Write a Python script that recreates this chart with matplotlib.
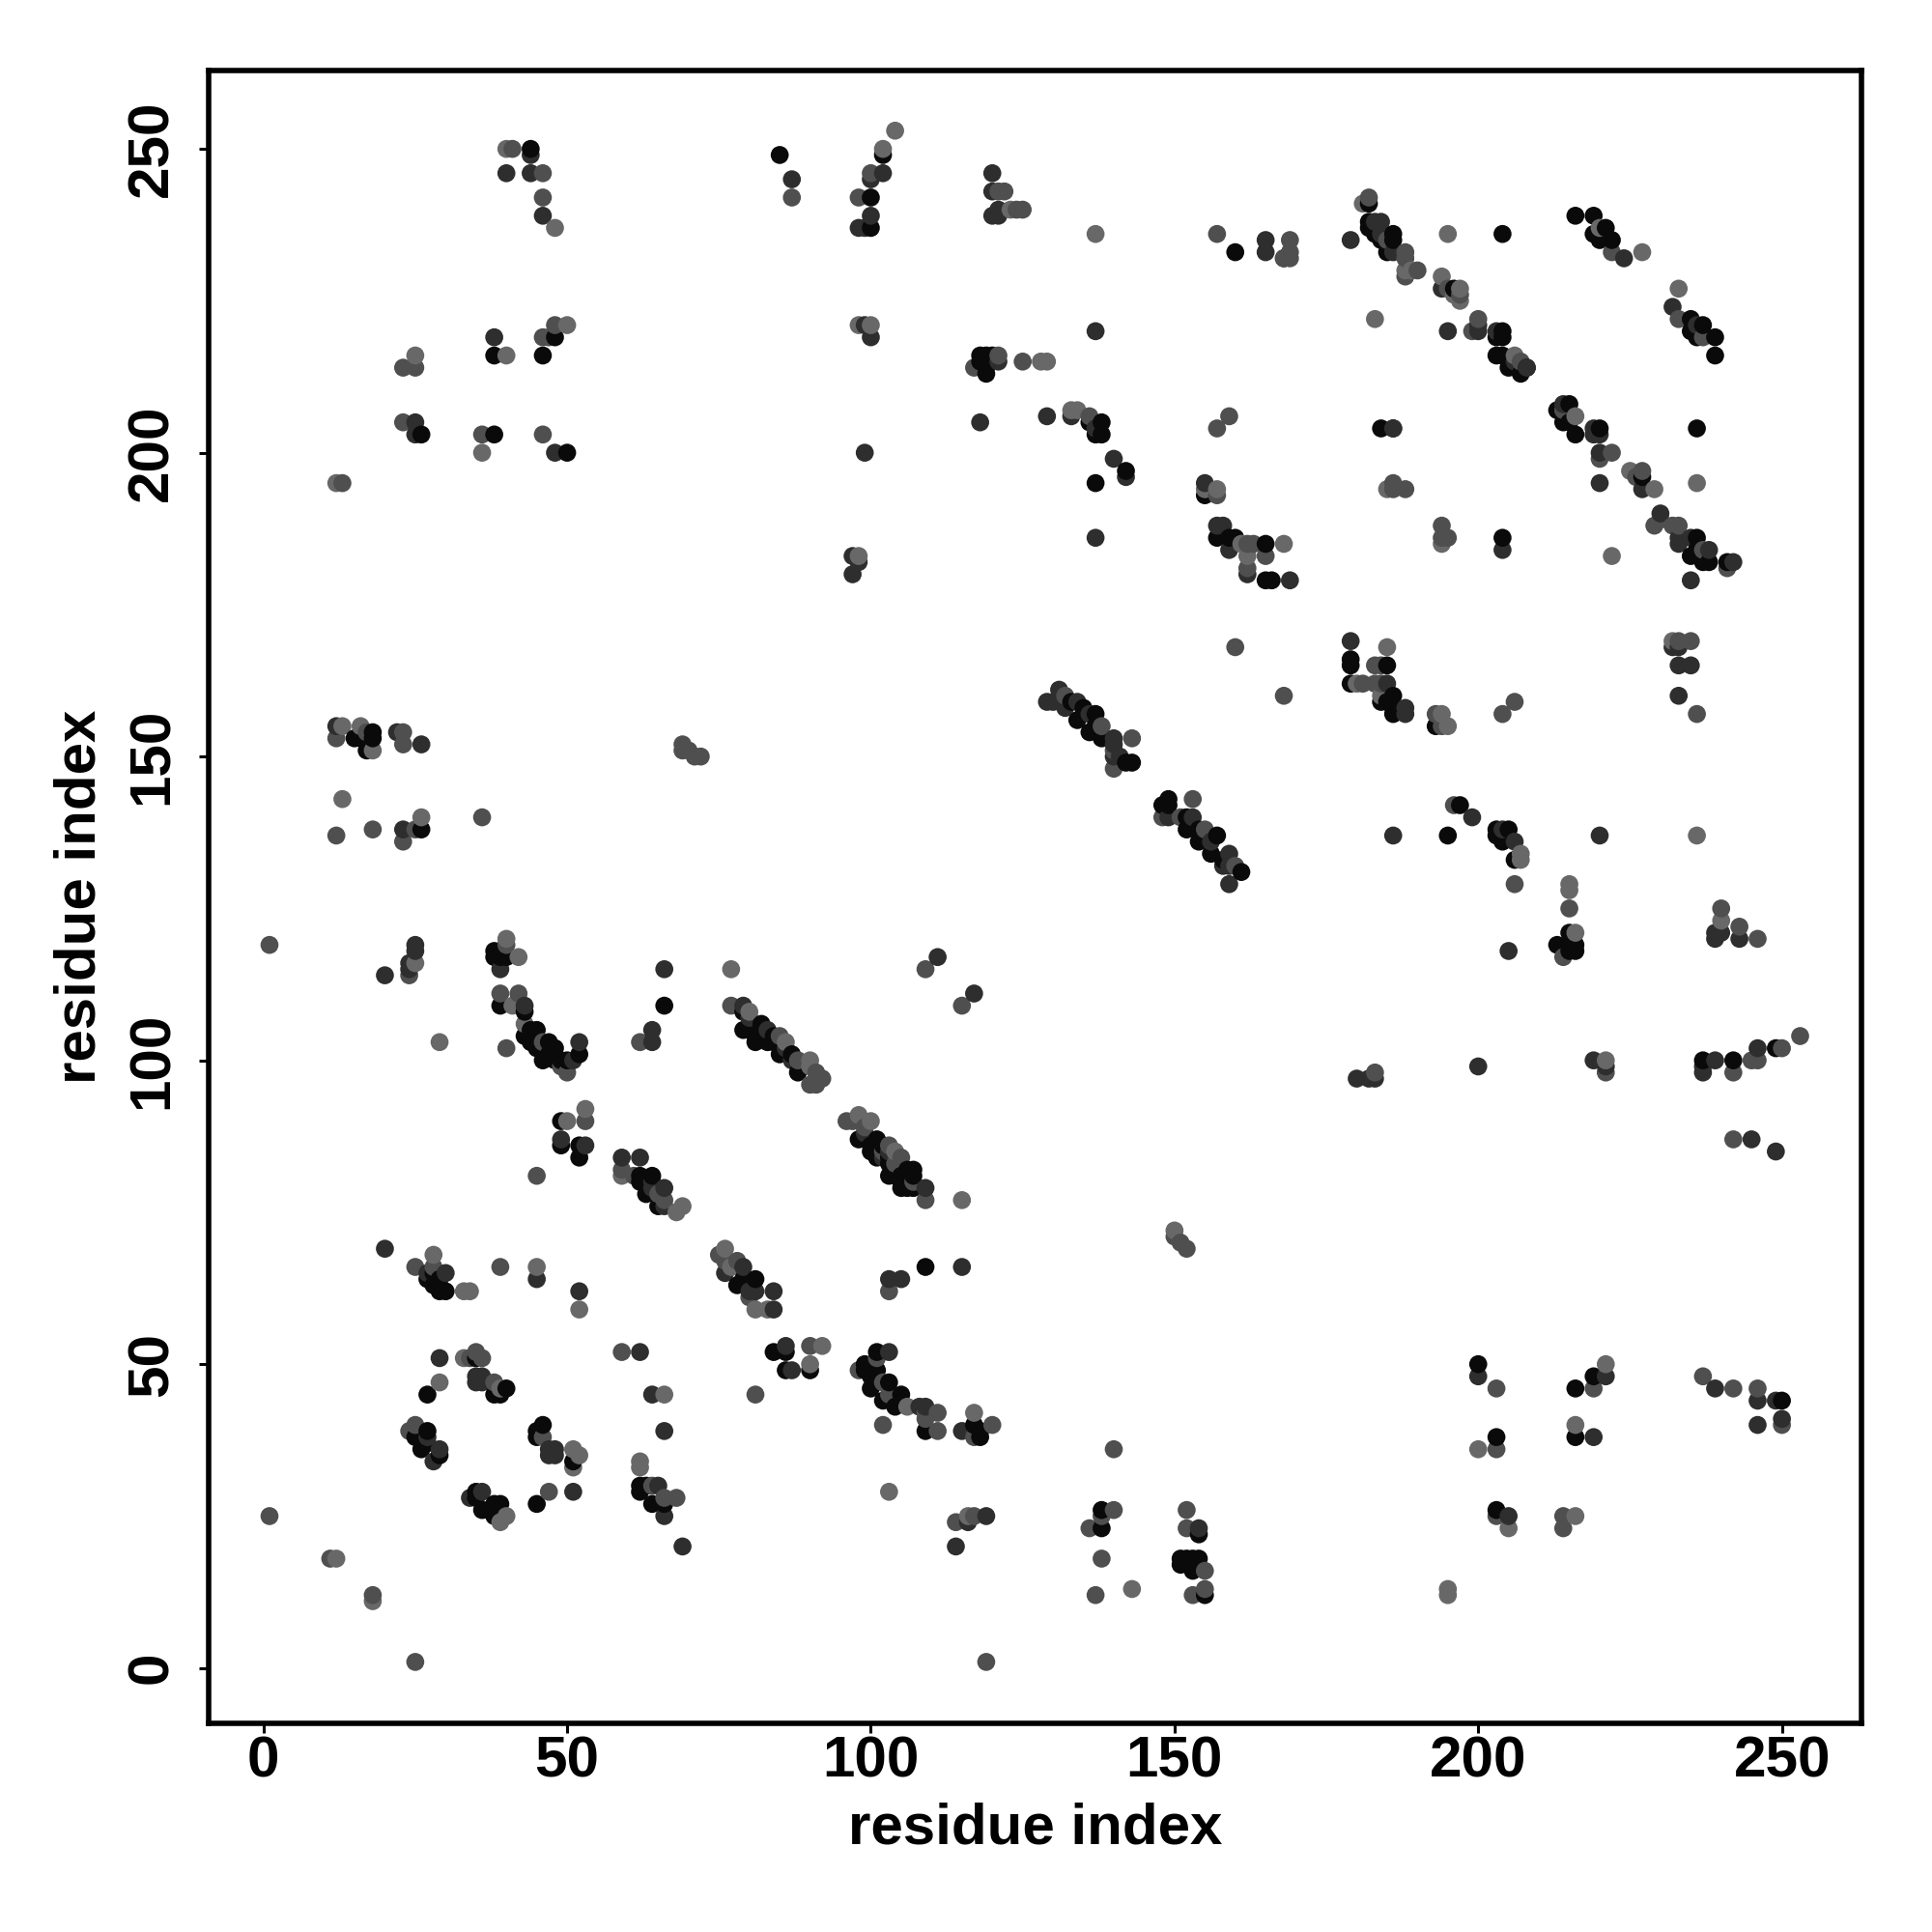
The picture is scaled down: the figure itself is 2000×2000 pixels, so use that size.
import numpy as np
import matplotlib
matplotlib.use("Agg")
import matplotlib.pyplot as plt

# contact points, grouped by grey level
black = [
    (27,64),(29,64),(29,62),(30,62),(27,45),(40,46),(38,45),(39,45),(35,51),(27,39),(25,38),(27,37),(26,36),(29,35),
    (46,40),(45,39),(45,38),(45,27),(49,90),(49,86),(52,86),(52,84),(62,81),(64,81),(62,80),(63,78),(65,76),
    (62,30),(62,29),(63,30),(64,27),(66,27),(35,29),(36,26),(38,27),(39,27),(35,28),(37,26),(38,25),
    (78,63),(81,64),(79,64),(84,52),(86,52),(86,49),(90,49),(51,34),(28,65),(28,63),
    (15,153),(17,151),(18,154),(18,153),(16,153),(26,138),(38,118),(38,117),(39,118),(39,117),(40,117),
    (39,109),(43,108),(44,105),(45,105),(43,104),(44,103),(47,103),(52,101),(46,100),(45,102),(47,101),(48,100),
    (49,100),(50,100),(48,102),(66,109),(79,108),(79,105),(82,106),(81,103),(84,104),(87,101),(80,105),(81,104),
    (82,105),(83,103),(84,103),(85,101),(88,98),
    (44,250),(85,249),(46,216),(48,219),(26,203),(38,203),(50,200),(38,216),
    (102,249),(100,242),(100,237),(118,216),(119,216),(120,216),(119,213),(118,215),(119,214),
    (138,205),(136,205),(137,203),(138,203),(142,197),(137,195),(155,193),(157,186),(159,186),(160,186),
    (165,185),(165,179),(166,179),(160,233),(182,241),(182,238),(182,237),(183,236),(186,236),(185,233),(184,235),
    (186,235),(204,236),(196,227),(204,220),(203,219),(204,219),(203,216),(204,216),(205,214),(208,214),(207,213),
    (205,215),(216,239),(219,239),(221,237),(219,236),(220,235),(222,235),(235,222),(237,221),(235,220),(236,219),
    (239,219),(239,216),(213,207),(215,208),(214,205),(216,203),(215,205),(220,204),(236,204),(184,204),(186,204),
    (227,196),(236,186),(235,183),(237,182),(238,182),(236,184),(241,182),(204,186),
    (133,159),(134,156),(135,158),(137,157),(136,154),(137,155),(138,153),(142,149),(143,149),
    (149,143),(148,142),(149,142),(152,140),(152,138),(154,136),(154,138),(157,137),(156,134),(161,131),(158,133),
    (179,166),(179,165),(185,165),(179,162),(186,160),(184,159),(186,158),(185,159),(186,157),(193,155),
    (195,137),(197,142),(203,138),(205,138),(203,137),(204,136),(206,133),
    (215,121),(216,119),(213,119),(215,119),(216,118),(215,118),(237,100),(242,100),(249,102),
    (98,87),(101,87),(101,84),(103,84),(106,82),(103,81),(105,79),(107,79),(109,66),
    (100,86),(102,86),(100,85),(103,83),(104,82),(105,81),(104,81),(105,80),(107,82),(106,79),(107,81),
    (101,52),(99,50),(99,49),(101,49),(100,48),(100,46),(103,47),(105,45),(102,44),(104,43),(109,39),
    (117,40),(118,38),(118,39),(138,26),(138,23),(154,22),(151,18),(153,18),(152,18),(151,17),(153,16),(154,18),(155,12),
    (200,50),(203,38),(203,26),(216,46),(219,48),(216,38),(250,44),
]
dark = [
    (20,69),(30,65),(27,65),(49,87),(53,86),(59,84),(62,84),(64,80),(64,79),(66,79),(66,76),(76,65),(79,66),
    (81,62),(84,62),(84,59),(80,62),(86,53),(87,49),(35,48),(35,47),(36,48),(36,47),(62,52),(64,45),(66,39),
    (29,51),(27,38),(28,34),(29,36),(47,36),(48,35),(47,35),(48,36),(51,29),(65,30),(66,25),(69,20),(34,28),(36,29),
    (45,64),(52,62),
    (12,155),(22,154),(26,152),(23,138),(25,119),(25,118),(24,116),(24,115),(20,114),(39,115),(43,109),(52,103),
    (66,115),(64,105),(64,103),(51,100),(80,107),(83,105),(86,102),(87,100),(79,109),
    (40,246),(44,249),(44,246),(46,239),(87,245),(38,219),(25,205),(25,203),(48,200),
    (102,246),(100,245),(100,239),(98,237),(99,237),(120,246),(120,243),(120,239),(121,240),(121,239),
    (165,235),(165,233),(168,232),(99,221),(100,219),(137,220),(121,215),(129,206),(118,205),(99,200),(133,206),
    (137,204),(140,199),(142,196),(137,186),(157,188),(158,188),(159,184),(162,180),(169,179),(97,183),(98,182),(97,180),
    (155,195),(179,235),(183,238),(184,238),(186,233),(184,236),(194,227),(195,220),(200,220),(200,221),(203,220),
    (224,232),(232,224),(236,221),(206,215),(208,214),(214,208),(219,204),(220,203),(219,203),(220,200),(220,195),
    (186,204),(227,194),(230,190),(233,185),(233,186),(235,186),(238,184),(242,182),(235,179),(204,184),
    (131,161),(129,159),(130,159),(134,159),(132,158),(136,157),(140,153),(140,152),(140,150),(141,150),
    (149,140),(153,140),(158,132),(159,134),(159,129),(156,136),(159,132),(111,117),(117,111),
    (179,169),(188,158),(188,157),(233,168),(232,168),(233,165),(235,165),(233,160),(185,162),
    (186,137),(199,140),(204,138),(206,136),(220,137),(205,118),(239,121),(240,121),(239,120),(243,120),
    (180,97),(182,97),(183,97),(200,99),(219,100),(221,99),(237,99),(237,98),(239,100),(246,102),(245,87),(249,85),
    (109,79),(115,66),(103,64),(105,64),(103,52),(108,43),(109,43),(115,39),(116,24),(119,25),(114,20),
    (99,88),(102,84),(103,85),
    (154,23),(200,48),(205,25),(221,48),(219,38),(239,46),(246,44),(249,44),(246,40),(250,41),
]
mid = [
    (1,25),(11,18),(18,12),(25,1),(25,66),(28,66),(39,66),(53,90),(45,81),(59,82),(61,81),(65,78),(66,77),
    (75,68),(76,67),(78,67),(80,61),(34,51),(35,52),(36,51),(38,47),(24,39),(25,40),(46,38),(47,29),(64,30),(66,28),(68,28),
    (59,52),(90,53),(81,45),(23,154),(196,142),
    (12,153),(17,154),(23,152),(12,137),(18,138),(23,136),(25,138),(36,140),(1,119),(69,152),(69,151),(70,151),(71,150),(72,150),
    (24,114),(40,119),(39,111),(42,111),(46,103),(62,103),(77,109),(85,104),(40,102),(49,99),(50,98),(88,100),(91,98),(91,96),(90,96),(92,97),
    (41,250),(46,246),(46,242),(87,242),(23,214),(25,214),(46,219),(47,219),(48,221),(23,205),(36,203),(46,203),(13,195),
    (100,246),(98,242),(121,243),(122,243),(124,240),(125,240),(157,236),(168,232),(169,235),(169,233),(169,232),
    (121,216),(117,214),(125,215),(136,206),(159,206),(157,204),(157,193),(162,185),(163,185),(165,183),(162,181),
    (182,242),(185,235),(188,233),(188,232),(188,229),(190,230),(195,227),(197,226),(199,220),(200,222),
    (207,215),(222,233),(233,222),(237,219),(214,207),(222,200),(220,199),(186,195),(186,194),(188,194),(227,197),
    (226,196),(229,188),(230,189),(232,188),(233,188),(237,184),(241,181),(194,188),(194,186),(195,186),
    (132,160),(138,155),(140,151),(140,148),(143,153),(153,143),(148,140),(151,140),(155,138),(160,132),(160,168),(168,160),
    (109,115),(115,109),(183,165),(184,165),(181,162),(183,162),(184,162),(193,157),(194,155),(206,159),(204,157),
    (233,169),(235,169),(236,157),(215,125),(214,117),(206,129),(240,125),(243,122),(246,120),
    (183,98),(221,98),(242,98),(245,100),(246,100),(250,102),(253,104),(242,87),
    (96,90),(97,90),(99,89),(102,85),(103,86),(104,83),(105,84),(107,80),(109,77),(150,71),(151,70),(152,69),(103,62),
    (101,51),(98,49),(102,47),(103,45),(109,42),(111,42),
    (109,41),(111,39),(102,40),(120,40),(117,38),(114,24),(117,25),(140,36),(138,25),(140,26),(136,23),(138,18),(137,12),
    (152,26),(152,23),(155,16),(153,12),(155,13),(119,1),(203,46),(203,36),(203,25),(214,25),(214,23),(219,46),
    (237,48),(242,46),(246,46),(250,40),
]
light = [
    (12,18),(18,11),(28,68),(33,62),(34,62),(45,66),(52,59),(53,92),(50,90),(59,81),(68,75),(69,76),(76,69),(77,66),
    (81,59),(83,59),(92,53),(90,50),(29,47),(33,51),(39,46),(62,34),(62,33),(51,36),(52,35),(51,33),(66,45),(39,24),(40,25),
    (13,155),(16,155),(18,151),(13,143),(26,140),(25,116),(40,120),(42,117),(41,109),(29,103),(77,115),(42,110),(43,106),
    (80,108),(86,103),(90,99),(90,100),
    (40,250),(48,237),(25,216),(40,216),(50,221),(36,200),(12,195),
    (104,253),(102,250),(123,240),(137,236),(98,221),(100,221),(128,215),(129,215),(133,207),(134,207),
    (157,194),(155,194),(162,183),(168,185),(161,185),(98,183),(181,241),(195,236),(183,222),(188,230),(189,230),
    (194,229),(197,227),(197,225),(196,226),(206,216),(220,237),(227,233),(233,227),(216,206),(185,194),(236,195),
    (225,197),(229,194),(222,183),(194,185),(185,168),(180,162),(184,160),(194,157),(195,155),
    (232,169),(207,134),(207,133),(236,137),(215,129),(215,128),(216,121),(240,123),(221,100),
    (98,91),(100,90),(104,85),(115,77),(150,72),(103,29),(106,43),(117,42),(116,25),(143,13),(195,13),(195,12),
    (200,36),(205,23),(216,25),(216,40),(221,50),
]
shades = [(black, "#0a0a0a"), (dark, "#2e2e2e"), (mid, "#4f4f4f"), (light, "#686868")]

ticks = [0, 50, 100, 150, 200, 250]
axis_name = "residue index"

plt.rcParams["font.family"] = ["Liberation Sans", "DejaVu Sans"]
plt.rcParams["font.weight"] = "bold"

xs, ys, cols = [], [], []
for pts, col in shades:
    for p in pts:
        xs.append(p[0])
        ys.append(p[1])
        cols.append(col)
xs = np.array(xs)
ys = np.array(ys)
cols = np.array(cols)
# points look drawn in order of x, then y
order = np.lexsort((ys, xs))

fig = plt.figure(figsize=(10, 10), dpi=200)
ax = fig.add_axes([216.3 / 2000, 1 - 1783.7 / 2000, 1710.7 / 2000, 1710.7 / 2000])
ax.scatter(xs[order], ys[order], s=45, c=cols[order], linewidths=0)
ax.set_xlim(-8.97, 263.1)
ax.set_ylim(-9.06, 262.9)

ax.set_xticks(ticks)
ax.set_yticks(ticks)
ax.tick_params(axis="both", length=3.6, width=1.1, labelsize=21.7)
ax.tick_params(axis="x", pad=1)
ax.tick_params(axis="y", pad=7.5)
for lab in ax.get_yticklabels():
    lab.set_rotation(90)
    lab.set_va("center")
for s in ax.spines.values():
    s.set_linewidth(2)

ax.set_xlabel(axis_name, fontsize=21.6, fontweight="bold")
ax.set_ylabel(axis_name, fontsize=21.6, fontweight="bold")
ax.xaxis.set_label_coords(0.5, -0.048)
ax.yaxis.set_label_coords(-0.062, 0.5)

fig.savefig("out.png", dpi=200)
